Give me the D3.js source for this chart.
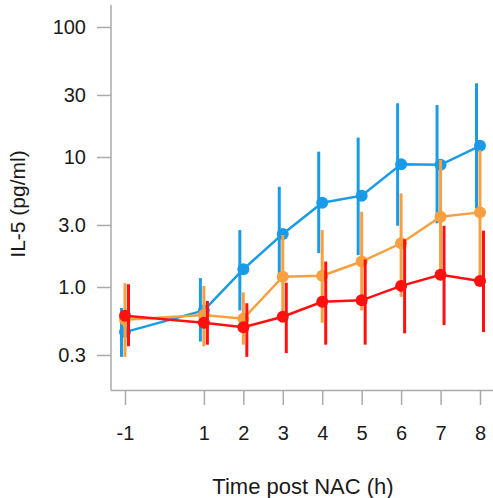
<!DOCTYPE html>
<html lang="en">
<head>
    <meta charset="UTF-8">
    <title>IL-5</title>
    <script src="https://unpkg.com/d3@7.8.5/dist/d3.min.js"></script>
    <style>
        * { margin: 0; padding: 0; box-sizing: border-box; }
        body { background: #fff; }
        svg { display: block; font-family: Arial, "Liberation Sans", sans-serif; }
    </style>
</head>
<body>
    <svg class="cc" width="493" height="498"></svg>
    <script>
        // 时间点
        const times = [-1, 1, 2, 3, 4, 5, 6, 7, 8]
        const xTicks = [-1, 1, 2, 3, 4, 5, 6, 7, 8]
        const yTicks = [100, 30, 10, 3, 1, 0.3]
        const yTickLabels = ['100', '30', '10', '3.0', '1.0', '0.3']

        // blue
        const blueMid = [0.45, 0.66, 1.37, 2.56, 4.45, 5.04, 8.8, 8.7, 12.2]
        const blueLo = [0.29, 0.38, 0.66, 1.13, 1.82, 1.76, 2.96, 3.09, 4.03]
        const blueHi = [0.69, 1.17, 2.74, 5.9, 11, 14.1, 25.9, 25.1, 36.9]
        // orange
        const orangeMid = [0.56, 0.61, 0.57, 1.2, 1.22, 1.57, 2.17, 3.47, 3.75]
        const orangeLo = [0.29, 0.35, 0.36, 0.57, 0.53, 0.66, 0.84, 1.13, 1.2]
        const orangeHi = [1.07, 1.02, 0.91, 2.51, 2.74, 3.8, 5.25, 9.5, 11.3]
        // red
        const redMid = [0.6, 0.53, 0.49, 0.59, 0.77, 0.79, 1.02, 1.24, 1.11]
        const redLo = [0.35, 0.36, 0.29, 0.31, 0.36, 0.36, 0.44, 0.51, 0.45]
        const redHi = [1.05, 0.78, 0.75, 1.08, 1.57, 1.63, 2.33, 2.96, 2.71]

        const series = [
            { color: '#1a9be8', shift: -3.5, mid: blueMid, lo: blueLo, hi: blueHi },
            { color: '#f8a040', shift: 0, mid: orangeMid, lo: orangeLo, hi: orangeHi },
            { color: '#ff1010', shift: 3.5, mid: redMid, lo: redLo, hi: redHi }
        ]

        const svg = d3.select('svg')
        const x = d3.scaleLinear().domain([-1, 8]).range([125, 480])
        const y = d3.scaleLog().domain([100, 1]).range([27, 287])

        const axisColor = '#aaa'
        const textColor = '#1a1a1a'

        // 坐标轴线
        svg.append('line').attr('x1', 111).attr('x2', 111).attr('y1', 5).attr('y2', 390.5)
            .attr('stroke', axisColor).attr('stroke-width', 1.5)
        svg.append('line').attr('x1', 111).attr('x2', 493).attr('y1', 390.5).attr('y2', 390.5)
            .attr('stroke', axisColor).attr('stroke-width', 1.5)

        // y轴
        const yAxis = d3.axisLeft(y).tickValues(yTicks).tickSize(14).tickPadding(11)
            .tickFormat((d, i) => yTickLabels[i])
        const gy = svg.append('g').attr('transform', 'translate(111,0)').call(yAxis)
        gy.select('.domain').remove()
        gy.selectAll('line').attr('stroke', axisColor).attr('stroke-width', 1.5)
        gy.selectAll('text').attr('fill', textColor).attr('font-size', 20)
            .attr('font-family', 'Arial, "Liberation Sans", sans-serif')

        // x轴
        const xAxis = d3.axisBottom(x).tickValues(xTicks).tickSize(14).tickPadding(21)
            .tickFormat(d => String(d))
        const gx = svg.append('g').attr('transform', 'translate(0,391)').call(xAxis)
        gx.select('.domain').remove()
        gx.selectAll('line').attr('stroke', axisColor).attr('stroke-width', 1.5)
        gx.selectAll('text').attr('fill', textColor).attr('font-size', 20)
            .attr('font-family', 'Arial, "Liberation Sans", sans-serif')

        // 标题
        svg.append('text').attr('x', 303).attr('y', 494).attr('text-anchor', 'middle')
            .attr('font-size', 22).attr('fill', textColor).text('Time post NAC (h)')
        svg.append('text').attr('transform', 'translate(25,204) rotate(-90)')
            .attr('text-anchor', 'middle').attr('font-size', 21).attr('fill', textColor)
            .text('IL-5 (pg/ml)')

        // 绘制系列
        series.forEach(s => {
            const pts = times.map((t, i) => ({ t, mid: s.mid[i], lo: s.lo[i], hi: s.hi[i] }))
            const g = svg.append('g')
            g.selectAll('.err').data(pts).enter().append('line')
                .attr('x1', d => x(d.t) + s.shift).attr('x2', d => x(d.t) + s.shift)
                .attr('y1', d => y(d.lo)).attr('y2', d => y(d.hi))
                .attr('stroke', s.color).attr('stroke-width', 3)
            g.append('path').datum(pts)
                .attr('d', d3.line().x(d => x(d.t)).y(d => y(d.mid)))
                .attr('fill', 'none').attr('stroke', s.color).attr('stroke-width', 2.5)
            g.selectAll('circle').data(pts).enter().append('circle')
                .attr('cx', d => x(d.t)).attr('cy', d => y(d.mid)).attr('r', 6)
                .attr('fill', s.color)
        })
    </script>
</body>
</html>
